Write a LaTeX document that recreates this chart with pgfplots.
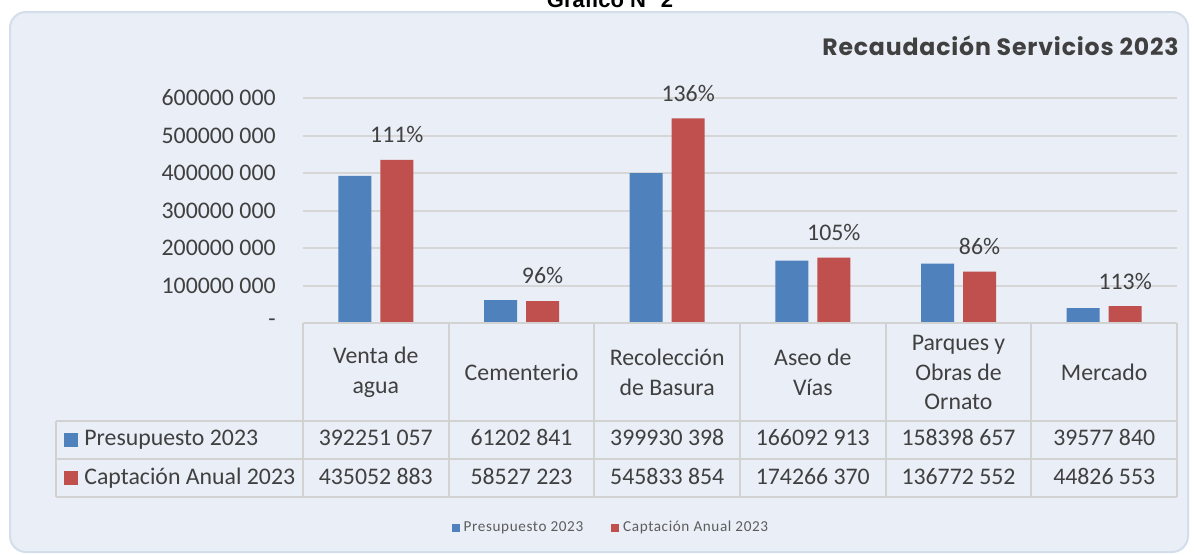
\documentclass[border=0pt]{standalone}
\usepackage{pgfplots}
\pgfplotsset{compat=1.18}
\usepackage{pgfplotstable}
\usepackage{fontspec}
\setmainfont{Carlito}
\newfontfamily\titlefont{Poppins}[LetterSpace=3.5]
\newfontfamily\legfont{Carlito}[LetterSpace=4]
\newfontfamily\headfont{Liberation Sans}
\definecolor{bgcol}{RGB}{233,238,247}
\definecolor{framecol}{RGB}{212,221,234}
\definecolor{gridcol}{RGB}{214,214,214}
\definecolor{tabcol}{RGB}{210,210,210}
\definecolor{txt}{RGB}{64,64,64}
\definecolor{barblue}{RGB}{79,129,189}
\definecolor{barred}{RGB}{192,80,77}

\pgfplotstableread{
x pres capt pct
0 392251057 435052883 111
1 61202841 58527223 96
2 399930398 545833854 136
3 166092913 174266370 105
4 158398657 136772552 86
5 39577840 44826553 113
}\datatab

\begin{document}
\begin{tikzpicture}[x=1pt,y=1pt]
\clip (0,0) rectangle (597,277);
\fill[white] (0,0) rectangle (597,277);
\draw[fill=bgcol, draw=framecol, line width=1pt, rounded corners=8pt] (5,1) rectangle (594,271);
\node[font=\headfont\bfseries\fontsize{11}{13}\selectfont, anchor=base, inner sep=0pt] at (305,273.5) {Gráfico N° 2};
\node[font=\titlefont\bfseries\fontsize{11.8}{13}\selectfont, text=txt, anchor=base east, inner sep=0pt] at (589.5,249.25) {Recaudación Servicios 2023};

\begin{axis}[
  at={(151.5pt,115.5pt)}, anchor=south west,
  scale only axis, width=437pt, height=112.5pt,
  xmin=-0.5, xmax=5.5, ymin=0, ymax=6e8,
  ybar=4.5pt, bar width=16.5pt,
  axis line style={draw=none}, major tick length=0pt,
  ymajorgrids, grid style={draw=gridcol, line width=1pt},
  scaled y ticks=false,
  ytick={0,1e8,2e8,3e8,4e8,5e8,6e8},
  yticklabels={{-\hspace{7pt}}, 100000 000, 200000 000, 300000 000, 400000 000, 500000 000, 600000 000},
  yticklabel style={font=\fontsize{11.9}{14}\selectfont, text=txt, anchor=east, inner sep=0pt, xshift=-13.5pt},
  xtick={0,1,2,3,4,5},
  xticklabels={{Venta de\\agua}, Cementerio, {Recolección\\de Basura}, {Aseo de\\Vías}, {Parques y\\Obras de\\Ornato}, Mercado},
  xticklabel style={font=\fontsize{11.9}{14.75}\selectfont, text=txt, align=center, anchor=center, yshift=-24.75pt, inner sep=0pt},
  clip=false,
  legend style={at={(0.3535,-0.911)}, anchor=center, draw=none, fill=none,
    font=\legfont\fontsize{7.6}{9}\selectfont, text=txt!85!white,
    /tikz/every even column/.append style={column sep=12pt}},
  legend columns=2,
  sqlegend/.style={legend image code/.code={\fill[##1] (0pt,-2pt) rectangle (4pt,2pt);}},
]
\addplot[fill=barblue, draw=none, sqlegend] table[x=x,y=pres] {\datatab};
\addplot[fill=barred, draw=none, sqlegend,
  point meta=explicit symbolic,
  nodes near coords={\pgfplotspointmeta\%},
  every node near coord/.append style={font=\fontsize{11.9}{14}\selectfont, text=txt, anchor=south, inner sep=0pt, yshift=8.25pt}]
  table[x=x,y=capt,meta=pct] {\datatab};
\legend{Presupuesto 2023, Captación Anual 2023}
\end{axis}

% data table grid
\begin{scope}[draw=tabcol, line width=1pt]
\draw (151.5,115.5) -- (588.5,115.5);
\draw (28,66.5) -- (588.5,66.5);
\draw (28,47.5) -- (588.5,47.5);
\draw (28,28.5) -- (588.5,28.5);
\draw (28,66.5) -- (28,28.5);
\foreach \k in {0,...,6} {\draw ({151.5+72.8333*\k},115.5) -- ({151.5+72.8333*\k},28.5);}
\end{scope}
\fill[barblue] (32,53.5) rectangle (39,60.5);
\fill[barred] (32,34.5) rectangle (39,41.5);
\begin{scope}[every node/.style={font=\fontsize{11.9}{14}\selectfont, text=txt, inner sep=0pt}]
\node[anchor=base west] at (42,54.25) {Presupuesto 2023};
\node[anchor=base west] at (42,34.75) {Captación Anual 2023};
\node[anchor=base] at (187.9,54.25) {392251 057};
\node[anchor=base] at (260.75,54.25) {61202 841};
\node[anchor=base] at (333.6,54.25) {399930 398};
\node[anchor=base] at (406.4,54.25) {166092 913};
\node[anchor=base] at (479.25,54.25) {158398 657};
\node[anchor=base] at (552.1,54.25) {39577 840};
\node[anchor=base] at (187.9,34.75) {435052 883};
\node[anchor=base] at (260.75,34.75) {58527 223};
\node[anchor=base] at (333.6,34.75) {545833 854};
\node[anchor=base] at (406.4,34.75) {174266 370};
\node[anchor=base] at (479.25,34.75) {136772 552};
\node[anchor=base] at (552.1,34.75) {44826 553};
\end{scope}
\end{tikzpicture}
\end{document}
